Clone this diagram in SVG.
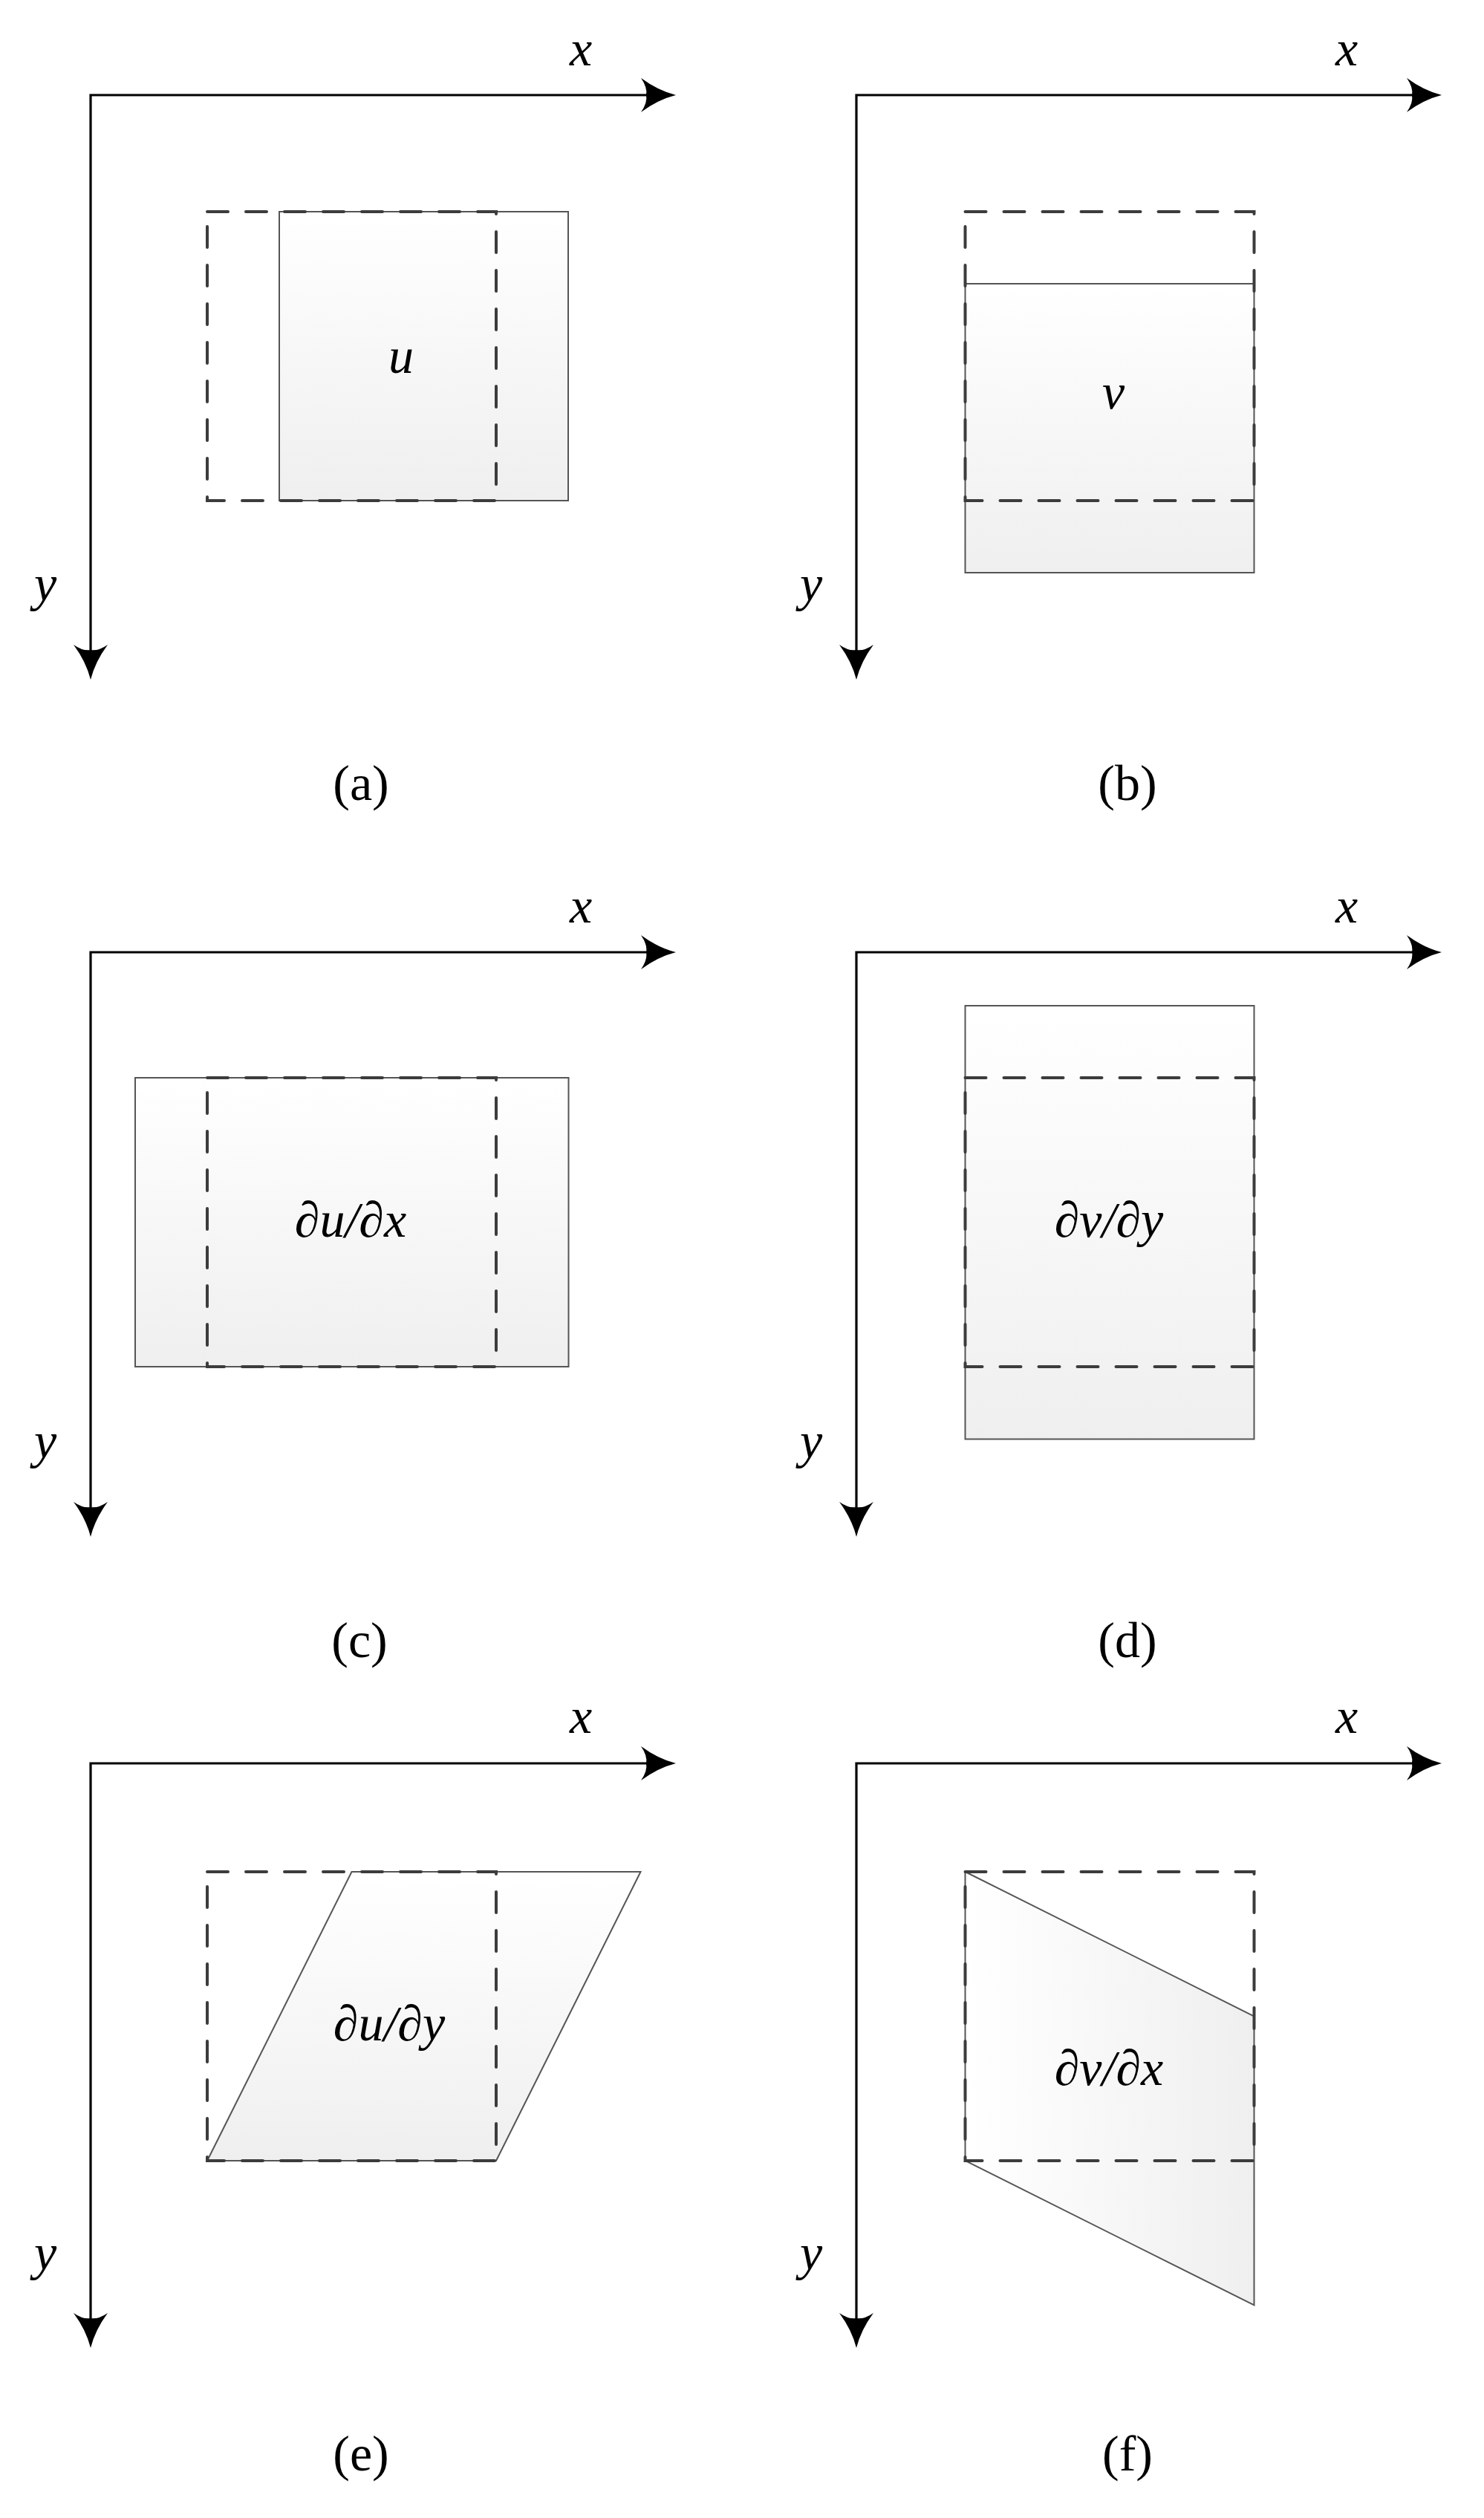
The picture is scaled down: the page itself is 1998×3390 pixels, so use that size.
<svg xmlns="http://www.w3.org/2000/svg" width="1998" height="3390" viewBox="0 0 1998 3390">
<style>
.ax{fill:none;stroke:#000;stroke-width:3.2;stroke-linejoin:miter;marker-start:url(#ahs);marker-end:url(#ah)}
.sh{stroke:#555555;stroke-width:2}
.dash{fill:none;stroke:#3c3c3c;stroke-width:4;stroke-dasharray:28 24;stroke-linecap:round}
text{font-family:'Liberation Serif','Times New Roman','DejaVu Serif',serif;font-size:68px;text-anchor:middle;fill:#000}
.v{font-style:italic}
</style>
<defs>
<linearGradient id="gv" x1="0" y1="0" x2="0" y2="1"><stop offset="0" stop-color="#ffffff"/><stop offset="1" stop-color="#efefef"/></linearGradient>
<linearGradient id="gh" x1="0" y1="0" x2="1" y2="0"><stop offset="0" stop-color="#ffffff"/><stop offset="1" stop-color="#efefef"/></linearGradient>
<marker id="ah" markerUnits="userSpaceOnUse" orient="auto" overflow="visible" refX="0" refY="0" markerWidth="1" markerHeight="1">
<path d="M38,0 Q14,-6 -9,-23 Q0,-10 -2,0 Q0,10 -9,23 Q14,6 38,0 Z" fill="#000"/>
</marker>
<marker id="ahs" markerUnits="userSpaceOnUse" orient="auto-start-reverse" overflow="visible" refX="0" refY="0" markerWidth="1" markerHeight="1">
<path d="M38,0 Q14,-6 -9,-23 Q0,-10 -2,0 Q0,10 -9,23 Q14,6 38,0 Z" fill="#000"/>
</marker>
</defs>
<rect width="1998" height="3390" fill="#fff"/>

<g id="panel-a">
<path class="ax" d="M122,877 V128 H872"/>
<text class="v" x="782" y="88" font-family="Liberation Serif, serif">x</text>
<text class="v" x="61" y="809" font-family="Liberation Serif, serif">y</text>
<rect class="sh" x="376" y="285" width="389" height="389" fill="url(#gv)"/>
<rect class="dash" x="279" y="285" width="389" height="389"/>
<text class="v" x="540" y="502" font-family="Liberation Serif, serif">u</text>
<text x="486" y="1077" font-family="Liberation Serif, serif">(a)</text>
</g>

<g id="panel-b">
<path class="ax" d="M1153,877 V128 H1903"/>
<text class="v" x="1813" y="88" font-family="Liberation Serif, serif">x</text>
<text class="v" x="1092" y="809" font-family="Liberation Serif, serif">y</text>
<rect class="sh" x="1299.5" y="382" width="389" height="389" fill="url(#gv)"/>
<rect class="dash" x="1299.5" y="285" width="389" height="389"/>
<text class="v" x="1499" y="550" font-family="Liberation Serif, serif">v</text>
<text x="1518" y="1077" font-family="Liberation Serif, serif">(b)</text>
</g>

<g id="panel-c">
<path class="ax" d="M122,2031 V1282 H872"/>
<text class="v" x="782" y="1242" font-family="Liberation Serif, serif">x</text>
<text class="v" x="61" y="1963" font-family="Liberation Serif, serif">y</text>
<rect class="sh" x="182" y="1451" width="583.5" height="389" fill="url(#gv)"/>
<rect class="dash" x="279" y="1451" width="389" height="389"/>
<text class="v" x="472" y="1665" font-family="Liberation Serif, serif">∂u/∂x</text>
<text x="484" y="2231" font-family="Liberation Serif, serif">(c)</text>
</g>

<g id="panel-d">
<path class="ax" d="M1153,2031 V1282 H1903"/>
<text class="v" x="1813" y="1242" font-family="Liberation Serif, serif">x</text>
<text class="v" x="1092" y="1963" font-family="Liberation Serif, serif">y</text>
<rect class="sh" x="1299.5" y="1354" width="389" height="583.5" fill="url(#gv)"/>
<rect class="dash" x="1299.5" y="1451" width="389" height="389"/>
<text class="v" x="1493" y="1665" font-family="Liberation Serif, serif">∂v/∂y</text>
<text x="1518" y="2231" font-family="Liberation Serif, serif">(d)</text>
</g>

<g id="panel-e">
<path class="ax" d="M122,3123 V2374 H872"/>
<text class="v" x="782" y="2333" font-family="Liberation Serif, serif">x</text>
<text class="v" x="61" y="3056" font-family="Liberation Serif, serif">y</text>
<polygon class="sh" points="279,2909 473.5,2520 862.5,2520 668,2909" fill="url(#gv)"/>
<rect class="dash" x="279" y="2520" width="389" height="389"/>
<text class="v" x="524" y="2747" font-family="Liberation Serif, serif">∂u/∂y</text>
<text x="486" y="3326" font-family="Liberation Serif, serif">(e)</text>
</g>

<g id="panel-f">
<path class="ax" d="M1153,3123 V2374 H1903"/>
<text class="v" x="1813" y="2333" font-family="Liberation Serif, serif">x</text>
<text class="v" x="1092" y="3056" font-family="Liberation Serif, serif">y</text>
<polygon class="sh" points="1299.5,2520 1688.5,2714.5 1688.5,3103.5 1299.5,2909" fill="url(#gh)"/>
<rect class="dash" x="1299.5" y="2520" width="389" height="389"/>
<text class="v" x="1493" y="2807" font-family="Liberation Serif, serif">∂v/∂x</text>
<text x="1518" y="3326" font-family="Liberation Serif, serif">(f)</text>
</g>
</svg>
